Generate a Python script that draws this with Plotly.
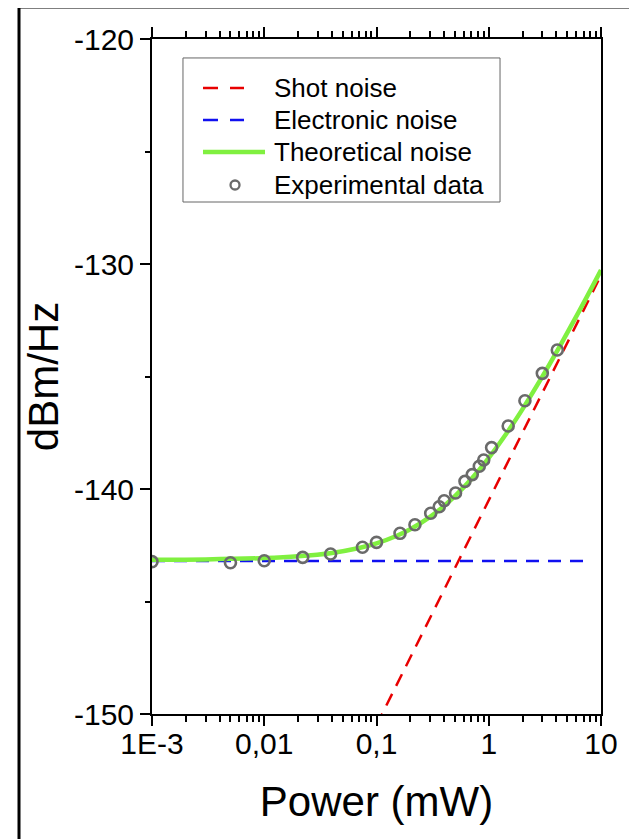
import plotly.graph_objects as go

# ---- data ----
power_exp = [0.001, 0.005, 0.01, 0.022, 0.039, 0.075, 0.1, 0.162, 0.22, 0.304, 0.362,
             0.401, 0.506, 0.614, 0.713, 0.824, 0.902, 1.06, 1.49, 2.1, 3.0, 4.08]
noise_exp = [-143.23, -143.28, -143.19, -143.04, -142.89, -142.59, -142.37, -141.97, -141.59,
             -141.08, -140.79, -140.52, -140.18, -139.66, -139.36, -138.99, -138.71, -138.16,
             -137.2, -136.08, -134.86, -133.82]

power_theory = [0.001, 0.003, 0.01, 0.02, 0.04, 0.07, 0.1, 0.15, 0.2, 0.3, 0.4, 0.5, 0.7,
                1, 1.5, 2, 3, 4, 5, 7, 10]
noise_theory = [-143.14, -143.13, -143.07, -142.99, -142.84, -142.62, -142.42, -142.09,
                -141.79, -141.24, -140.75, -140.32, -139.56, -138.62, -137.40, -136.45,
                -135.01, -133.93, -133.06, -131.73, -130.27]

power_shot = [0.1, 10]
noise_shot = [-150.5, -130.5]

power_elec = [0.001, 7]
noise_elec = [-143.2, -143.2]

x_tickvals = [0.001, 0.01, 0.1, 1, 10]
x_ticktext = ["1E-3", "0,01", "0,1", "1", "10"]
y_tickvals = [-150, -140, -130, -120]
y_ticktext = ["-150", "-140", "-130", "-120"]
y_minorvals = [-145, -135, -125]

legend_names = ["Shot noise", "Electronic noise", "Theoretical noise", "Experimental data"]

FONT = "Liberation Sans, Arial, sans-serif"
RED = "#E80000"
BLUE = "#1010F0"
GREEN = "#80F040"
GREY = "#6A6A6A"

fig = go.Figure()
fig.add_trace(go.Scatter(x=power_shot, y=noise_shot, mode="lines", name=legend_names[0],
                         line=dict(color=RED, width=2.5, dash="13px,9px")))
fig.add_trace(go.Scatter(x=power_elec, y=noise_elec, mode="lines", name=legend_names[1],
                         line=dict(color=BLUE, width=2.5, dash="13px,9px")))
fig.add_trace(go.Scatter(x=power_theory, y=noise_theory, mode="lines", name=legend_names[2],
                         line=dict(color=GREEN, width=4.5, shape="spline")))
fig.add_trace(go.Scatter(x=power_exp, y=noise_exp, mode="markers", name=legend_names[3],
                         marker=dict(symbol="circle-open", size=11, color=GREY,
                                     line=dict(width=2.6, color=GREY))))

# ---- legend drawn as a framed box (paper coordinates of the plot area) ----
row_y = [0.9274, 0.8800, 0.8326, 0.7837]
sym_x0 = 0.1136
text_x = 0.2673
shapes = [
    # outer figure frame (only top and left visible)
    dict(type="rect", xref="paper", yref="paper", x0=-0.2962, x1=1.5, y0=-0.5, y1=1.0474,
         line=dict(color="black", width=3), layer="above"),
    # legend box
    dict(type="rect", xref="paper", yref="paper", x0=0.069, x1=0.7751, y0=0.7585, y1=0.9719,
         line=dict(color="#666666", width=1), fillcolor="white", layer="above"),
    dict(type="line", xref="paper", yref="paper", x0=sym_x0, x1=0.2049, y0=row_y[0], y1=row_y[0],
         line=dict(color=RED, width=2.5, dash="15px,12px"), layer="above"),
    dict(type="line", xref="paper", yref="paper", x0=sym_x0, x1=0.2049, y0=row_y[1], y1=row_y[1],
         line=dict(color=BLUE, width=2.5, dash="15px,12px"), layer="above"),
    dict(type="line", xref="paper", yref="paper", x0=sym_x0, x1=0.2517, y0=row_y[2], y1=row_y[2],
         line=dict(color=GREEN, width=4.5), layer="above"),
    dict(type="circle", xref="paper", yref="paper", xsizemode="pixel", ysizemode="pixel",
         xanchor=0.1849, yanchor=row_y[3], x0=-4.5, x1=4.5, y0=-4.5, y1=4.5,
         line=dict(color=GREY, width=2.3), layer="above"),
]
annotations = [
    dict(xref="paper", yref="paper", x=text_x, y=yy, text=name, showarrow=False,
         xanchor="left", yanchor="middle", font=dict(size=26, family=FONT, color="black"))
    for name, yy in zip(legend_names, row_y)
]

fig.update_layout(
    width=629, height=831,
    margin=dict(l=144, r=36, t=31, b=125),
    paper_bgcolor="white", plot_bgcolor="white",
    font=dict(family=FONT, color="black"),
    showlegend=False,
    xaxis=dict(type="log", range=[-3, 1], tickvals=x_tickvals, ticktext=x_ticktext,
               ticks="outside", ticklen=10, tickwidth=2, tickcolor="black",
               showline=True, linewidth=2, linecolor="black", mirror="ticks",
               showgrid=False, zeroline=False, ticklabelstandoff=-8,
               tickfont=dict(size=30, family=FONT),
               minor=dict(ticks="outside", ticklen=6, tickwidth=1.5, tickcolor="black",
                          dtick="D1", showgrid=False),
               title=dict(text="Power (mW)", font=dict(size=42, family=FONT), standoff=28)),
    yaxis=dict(range=[-150, -120], tickvals=y_tickvals, ticktext=y_ticktext,
               ticks="outside", ticklen=10, tickwidth=2, tickcolor="black",
               showline=True, linewidth=2, linecolor="black", mirror=True,
               showgrid=False, zeroline=False,
               tickfont=dict(size=30, family=FONT),
               minor=dict(tickvals=y_minorvals, ticks="outside", ticklen=5, tickwidth=1.5,
                          tickcolor="black", showgrid=False),
               title=dict(text="dBm/Hz", font=dict(size=42, family=FONT), standoff=2)),
    shapes=shapes,
    annotations=annotations,
)

fig.write_html("out.html")
